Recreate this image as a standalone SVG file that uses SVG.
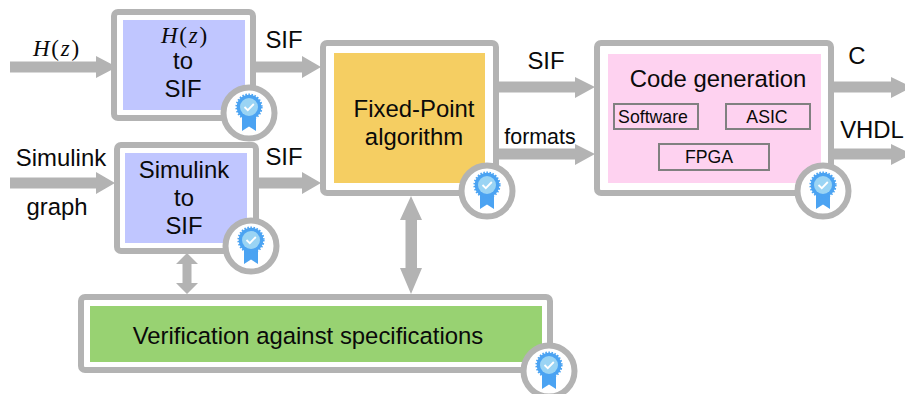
<svg xmlns="http://www.w3.org/2000/svg" xmlns:xlink="http://www.w3.org/1999/xlink" width="905" height="394" viewBox="0 0 905 394">
<style>
text{font-family:"Liberation Sans",Arial,sans-serif;fill:#0a0a0a;text-anchor:middle;font-size:23.9px}
.m{font-family:"Liberation Serif","Times New Roman",serif;font-size:23px;letter-spacing:1.8px}
.s{font-size:17.7px}
.f{font-size:21.4px}
.o{fill:#fff;stroke:#b3b3b3;stroke-width:6}
.b{fill:#c0c6ff}
.sub{fill:none;stroke:#808080;stroke-width:2}
.a{fill:#b3b3b3}
</style>
<defs>
<g id="badge">
<circle r="25.5" fill="#fff" stroke="#b3b3b3" stroke-width="6"/>
<path d="M-7-1V18L0 13.5 7 18V-1Z" fill="#4ba3f2"/>
<circle cy="-6" r="12.3" fill="#4ba3f2" stroke="#4ba3f2" stroke-width="2.6" stroke-dasharray="1.5 1.5"/>
<circle cy="-6" r="9" fill="#9ad4f4"/>
<path d="M-4.500-6 -1.200-2.800 4.800-9" fill="none" stroke="#fff" stroke-width="1.800"/>
</g>
</defs>
<g id="connectors">
<path class="a" d="M10 61.500H96V56L117 67 96 78V72.500H10Z"/>
<path class="a" d="M10 177.500H96V172L115 183 96 194V188.500H10Z"/>
<path class="a" d="M254 61.500H302V56L321 67 302 78V72.500H254Z"/>
<path class="a" d="M257 177.500H302V172L321 183 302 194V188.500H257Z"/>
<path class="a" d="M497 81.500H575V77L595 87 575 98V92.500H497Z"/>
<path class="a" d="M497 148.500H575V144L595 154 575 165V159.500H497Z"/>
<path class="a" d="M832 81.500H891V77L912 87 891 98V92.500H832Z"/>
<path class="a" d="M832 148.500H891V144L912 154 891 165V159.500H832Z"/>
<path class="a" d="M187 253 198 264H191.500V283H198L187 294 176 283H182.500V264H176Z"/>
<path class="a" d="M411 196 422 220H417V268H422L411 294 400 268H405.500V220H400Z"/>
</g>
<g id="node-hz">
<rect class="o" x="114" y="12" width="139" height="106" rx="4"/>
<rect class="b" x="123" y="20" width="122" height="90"/>
<text class="m" x="185" y="43" font-style="italic">H<tspan font-style="normal">(</tspan>z<tspan font-style="normal">)</tspan></text>
<text x="183" y="69">to</text>
<text x="183" y="97">SIF</text>
<use xlink:href="#badge" href="#badge" x="249" y="113"/>
</g>
<g id="node-simulink">
<rect class="o" x="117" y="145" width="139" height="106" rx="4"/>
<rect class="b" x="125" y="153" width="122" height="90"/>
<text x="184" y="178">Simulink</text>
<text x="184" y="206">to</text>
<text x="184" y="234">SIF</text>
<use xlink:href="#badge" href="#badge" x="251" y="246"/>
</g>
<g id="node-fixed-point">
<rect class="o" x="323" y="43" width="173" height="150" rx="4"/>
<rect x="334" y="53" width="151" height="130" fill="#f5ce62"/>
<text x="414" y="117">Fixed-Point</text>
<text x="414" y="145">algorithm</text>
<use xlink:href="#badge" href="#badge" x="487" y="191"/>
</g>
<g id="node-codegen">
<rect class="o" x="597" y="43" width="234" height="150" rx="4"/>
<rect x="608" y="54" width="213" height="129" fill="#fed2f0"/>
<text x="718" y="87">Code generation</text>
<rect class="sub" x="614" y="104" width="84" height="25"/>
<text class="s" x="653" y="123">Software</text>
<rect class="sub" x="726" y="104" width="84" height="25"/>
<text class="s" x="767" y="123">ASIC</text>
<rect class="sub" x="659" y="144" width="110" height="26"/>
<text class="s" x="709" y="163">FPGA</text>
<use xlink:href="#badge" href="#badge" x="823" y="191"/>
</g>
<g id="node-verification">
<rect class="o" x="81" y="297" width="469" height="73" rx="4"/>
<rect x="90" y="306" width="452" height="56" fill="#98d272"/>
<text x="308" y="344">Verification against specifications</text>
<use xlink:href="#badge" href="#badge" x="549" y="371"/>
</g>
<g id="labels">
<text class="m" x="57" y="56" font-style="italic">H<tspan font-style="normal">(</tspan>z<tspan font-style="normal">)</tspan></text>
<text x="61" y="166">Simulink</text>
<text x="57" y="215">graph</text>
<text x="284" y="48">SIF</text>
<text x="284" y="165">SIF</text>
<text x="546" y="69">SIF</text>
<text class="f" x="540" y="144">formats</text>
<text x="857" y="64">C</text>
<text x="872" y="138">VHDL</text>
</g>
</svg>
